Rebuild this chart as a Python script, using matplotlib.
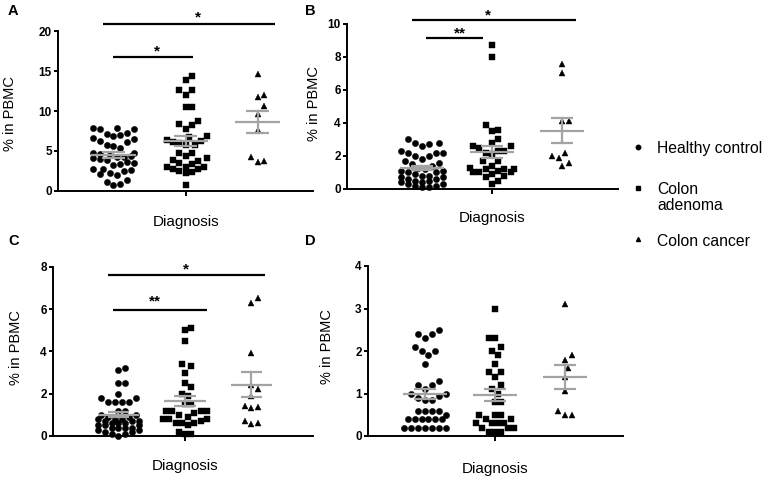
import numpy as np
import matplotlib
matplotlib.use('Agg')
import matplotlib.pyplot as plt
from matplotlib.lines import Line2D

plt.rcParams['font.family'] = ['Liberation Sans', 'DejaVu Sans']

# ---------------- data ----------------
groups = ['Healthy control', 'Colon adenoma', 'Colon cancer']
legend_labels = ['Healthy control', 'Colon\nadenoma', 'Colon cancer']
y_label = '% in PBMC'
x_label = 'Diagnosis'
panel_letters = ['A', 'B', 'C', 'D']

a_healthy = [7.9, 7.9, 7.8, 7.8, 7.2, 7.1, 7.0, 6.9, 6.6, 6.5, 6.3, 6.1, 5.7, 5.6, 5.4,
             4.8, 4.7, 4.6, 4.5, 4.4, 4.3, 4.2, 4.1, 4.0, 3.9, 3.6, 3.5, 3.4, 3.3,
             2.8, 2.7, 2.6, 2.5, 2.2, 2.1, 2.0, 1.4, 1.1, 0.9, 0.8]
a_adenoma = [14.4, 13.9, 12.6, 12.6, 12.0, 10.5, 10.5, 8.8, 8.4, 8.3, 7.8, 6.9, 6.8, 6.4,
             6.3, 6.1, 6.0, 5.8, 5.7, 4.8, 4.8, 4.4, 4.1, 3.9, 3.8, 3.5, 3.4, 3.0, 3.0,
             3.0, 2.8, 2.7, 2.5, 2.4, 2.3, 0.75]
a_cancer = [14.6, 12.0, 11.7, 10.6, 9.6, 7.6, 4.3, 3.75, 3.6]

b_healthy = [3.0, 2.8, 2.8, 2.7, 2.6, 2.3, 2.2, 2.2, 2.2, 2.0, 2.0, 1.8, 1.7, 1.6, 1.5,
             1.4, 1.3, 1.2, 1.1, 1.1, 1.0, 1.0, 0.9, 0.8, 0.8, 0.7, 0.7, 0.6, 0.6, 0.5,
             0.5, 0.4, 0.4, 0.3, 0.3, 0.2, 0.2, 0.1, 0.1]
b_adenoma = [8.7, 8.0, 3.9, 3.6, 3.5, 3.0, 2.8, 2.6, 2.6, 2.5, 2.3, 2.3, 2.2, 2.1, 1.7,
             1.7, 1.4, 1.3, 1.2, 1.2, 1.2, 1.1, 1.0, 1.0, 1.0, 0.9, 0.8, 0.7, 0.5, 0.3]
b_cancer = [7.6, 7.0, 4.1, 4.1, 2.2, 2.0, 1.9, 1.6, 1.4]

c_healthy = [3.2, 3.1, 2.5, 2.5, 2.0, 1.8, 1.8, 1.6, 1.6, 1.6, 1.6, 1.2, 1.2, 1.0, 1.0,
             0.9, 0.9, 0.8, 0.8, 0.8, 0.7, 0.7, 0.7, 0.6, 0.6, 0.6, 0.5, 0.5, 0.5, 0.4,
             0.4, 0.4, 0.4, 0.3, 0.3, 0.2, 0.2, 0.1, 0.1, 0.0]
c_adenoma = [5.1, 5.0, 4.5, 3.4, 3.3, 3.0, 2.5, 2.3, 2.0, 1.9, 1.5, 1.5, 1.2, 1.2, 1.2,
             1.2, 1.1, 1.0, 0.9, 0.8, 0.8, 0.8, 0.7, 0.6, 0.6, 0.6, 0.5, 0.2, 0.1, 0.1]
c_cancer = [6.5, 6.3, 3.9, 2.4, 2.2, 1.9, 1.4, 1.35, 1.3, 0.7, 0.6, 0.55]

d_healthy = [2.5, 2.4, 2.4, 2.3, 2.1, 2.0, 2.0, 1.9, 1.7, 1.3, 1.2, 1.2, 1.1, 1.0, 1.0,
             0.95, 0.9, 0.85, 0.85, 0.6, 0.6, 0.6, 0.6, 0.5, 0.4, 0.4, 0.4, 0.4, 0.4,
             0.4, 0.2, 0.2, 0.2, 0.2, 0.2, 0.2, 0.2]
d_adenoma = [3.0, 2.3, 2.3, 2.1, 2.0, 1.9, 1.7, 1.5, 1.5, 1.4, 1.2, 1.1, 1.0, 0.8, 0.8,
             0.5, 0.5, 0.5, 0.4, 0.4, 0.3, 0.3, 0.3, 0.3, 0.2, 0.2, 0.2, 0.1, 0.1, 0.1]
d_cancer = [3.1, 1.9, 1.8, 1.6, 1.4, 1.05, 0.6, 0.5, 0.5]

a_yticks = [0, 5, 10, 15, 20]
b_yticks = [0, 2, 4, 6, 8, 10]
c_yticks = [0, 2, 4, 6, 8]
d_yticks = [0, 1, 2, 3, 4]

a_sig = ['*', '*']
b_sig = ['**', '*']
c_sig = ['**', '*']

# ---------------- layout / style ----------------
W, H = 767, 482
fig = plt.figure(figsize=(W / 100, H / 100), dpi=100)


def rect(l, r, t, b):
    return [l / W, 1 - b / H, (r - l) / W, (b - t) / H]


markers = ['o', 's', '^']
msizes = [4.5, 4.1, 4.4]
GRAY = '#a3a3a3'
MAX_HALF_PX = 23.0
Y_STRETCH = 1.6

panels = [
    dict(letter=panel_letters[0], r=rect(58, 313, 31, 191), xlim=(-0.77, 2.77),
         ylim=(0, 20), yticks=a_yticks, data=[a_healthy, a_adenoma, a_cancer],
         bars=[(0.0, 1.1, 16.75, a_sig[0], 0.61, 17.0),
               (-0.14, 2.24, 20.9, a_sig[1], 1.17, 21.2)],
         letter_xy=(8, 15), ylab_xy=(10, 114), xlab_xy=(186, 226)),
    dict(letter=panel_letters[1], r=rect(347, 618, 24, 189), xlim=(-1.07, 2.8),
         ylim=(0, 10), yticks=b_yticks, data=[b_healthy, b_adenoma, b_cancer],
         bars=[(0.057, 0.867, 9.13, b_sig[0], 0.54, 9.2),
               (-0.147, 2.2, 10.24, b_sig[1], 0.94, 10.28)],
         letter_xy=(305, 15), ylab_xy=(314, 104), xlab_xy=(492, 222)),
    dict(letter=panel_letters[2], r=rect(53, 313, 266.7, 436), xlim=(-0.985, 2.925),
         ylim=(0, 8), yticks=c_yticks, data=[c_healthy, c_adenoma, c_cancer],
         bars=[(-0.09, 1.33, 5.97, c_sig[0], 0.55, 6.15),
               (-0.16, 2.2, 7.63, c_sig[1], 1.01, 7.68)],
         letter_xy=(8, 245), ylab_xy=(16, 348), xlab_xy=(185, 470)),
    dict(letter=panel_letters[3], r=rect(368, 622.7, 266, 436), xlim=(-0.814, 2.824),
         ylim=(0, 4), yticks=d_yticks, data=[d_healthy, d_adenoma, d_cancer],
         bars=[], letter_xy=(305, 245), ylab_xy=(327, 347), xlab_xy=(495, 473)),
]


def swarm(ax, xc, vals, dist_px, step_px):
    tr = ax.transData
    ys = np.array([tr.transform((xc, v))[1] for v in vals])
    ppx = tr.transform((1, 0))[0] - tr.transform((0, 0))[0]
    order = np.argsort(ys)
    placed = []
    xs = np.zeros(len(vals))
    cands = [0.0]
    for j in range(1, 80):
        if j * step_px > MAX_HALF_PX:
            break
        cands += [j * step_px, -j * step_px]
    dy_lim = dist_px * Y_STRETCH
    for i in order:
        y = ys[i]
        best, best_cost = 0.0, None
        for c in cands:
            cost = 0.0
            for px, py in placed:
                r2 = ((c - px) / dist_px) ** 2 + ((y - py) / dy_lim) ** 2
                if r2 < 1:
                    cost += 1 - r2
            if cost == 0:
                best = c
                best_cost = 0
                break
            if best_cost is None or cost < best_cost - 1e-9:
                best, best_cost = c, cost
        placed.append((best, y))
        xs[i] = xc + best / ppx
    return xs


for p in panels:
    ax = fig.add_axes(p['r'])
    ax.set_xlim(*p['xlim'])
    ax.set_ylim(*p['ylim'])
    for s in ['top', 'right']:
        ax.spines[s].set_visible(False)
    for s in ['left', 'bottom']:
        ax.spines[s].set_linewidth(1.4)
        ax.spines[s].set_color('black')
    ax.set_yticks(p['yticks'])
    ax.set_xticks([1])
    ax.set_xticklabels([])
    ax.tick_params(axis='y', direction='out', length=3, width=1.4, pad=1.5,
                   labelsize=8.5)
    ax.tick_params(axis='x', direction='out', length=3.5, width=1.4)
    for lab in ax.get_yticklabels():
        lab.set_fontweight('bold')
    ax.set_facecolor('none')

    for gi, vals in enumerate(p['data']):
        vals = np.asarray(vals, dtype=float)
        dist = msizes[gi] / 0.72 * 1.0
        xs = swarm(ax, gi, vals, dist, dist * 0.55)
        ax.plot(xs, vals, linestyle='none', marker=markers[gi], ms=msizes[gi],
                color='black', mec='black', mew=0.3, zorder=3, clip_on=False)
        m = vals.mean()
        sem = vals.std(ddof=1) / np.sqrt(len(vals))
        ax.plot([gi - 0.31, gi + 0.31], [m, m], color=GRAY, lw=1.6, zorder=4,
                solid_capstyle='butt')
        ax.plot([gi, gi], [m - sem, m + sem], color=GRAY, lw=1.6, zorder=4)
        for yv in (m - sem, m + sem):
            ax.plot([gi - 0.16, gi + 0.16], [yv, yv], color=GRAY, lw=1.6, zorder=4,
                    solid_capstyle='butt')

    for (x0, x1, yb, lab, lx, ly) in p['bars']:
        ax.plot([x0, x1], [yb, yb], color='black', lw=1.6, clip_on=False,
                solid_capstyle='butt')
        ax.text(lx, ly, lab, ha='center', va='baseline', fontsize=11,
                fontweight='bold', clip_on=False)

    lx, ly = p['letter_xy']
    fig.text(lx / W, 1 - ly / H, p['letter'], fontsize=10.5, fontweight='bold',
             ha='left', va='baseline')
    yx, yy = p['ylab_xy']
    fig.text(yx / W, 1 - yy / H, y_label, rotation=90, fontsize=10.5,
             ha='center', va='center')
    xx, xy = p['xlab_xy']
    fig.text(xx / W, 1 - xy / H, x_label, fontsize=11, ha='center', va='baseline')

# legend (manual)
leg_marker_x = 638
leg_text_x = 657
leg_rows = [(147, 148), (188, 190), (239, 241)]
leg_ms = [3.2, 3.0, 2.9]
for gi, (my, ty) in enumerate(leg_rows):
    fig.add_artist(Line2D([leg_marker_x / W], [1 - my / H], marker=markers[gi],
                          ms=leg_ms[gi], color='black', linestyle='none',
                          transform=fig.transFigure))
    fig.text(leg_text_x / W, 1 - (ty - 7.5) / H, legend_labels[gi], fontsize=11.3,
             ha='left', va='top', linespacing=1.05)

fig.savefig('out.png', dpi=100)
